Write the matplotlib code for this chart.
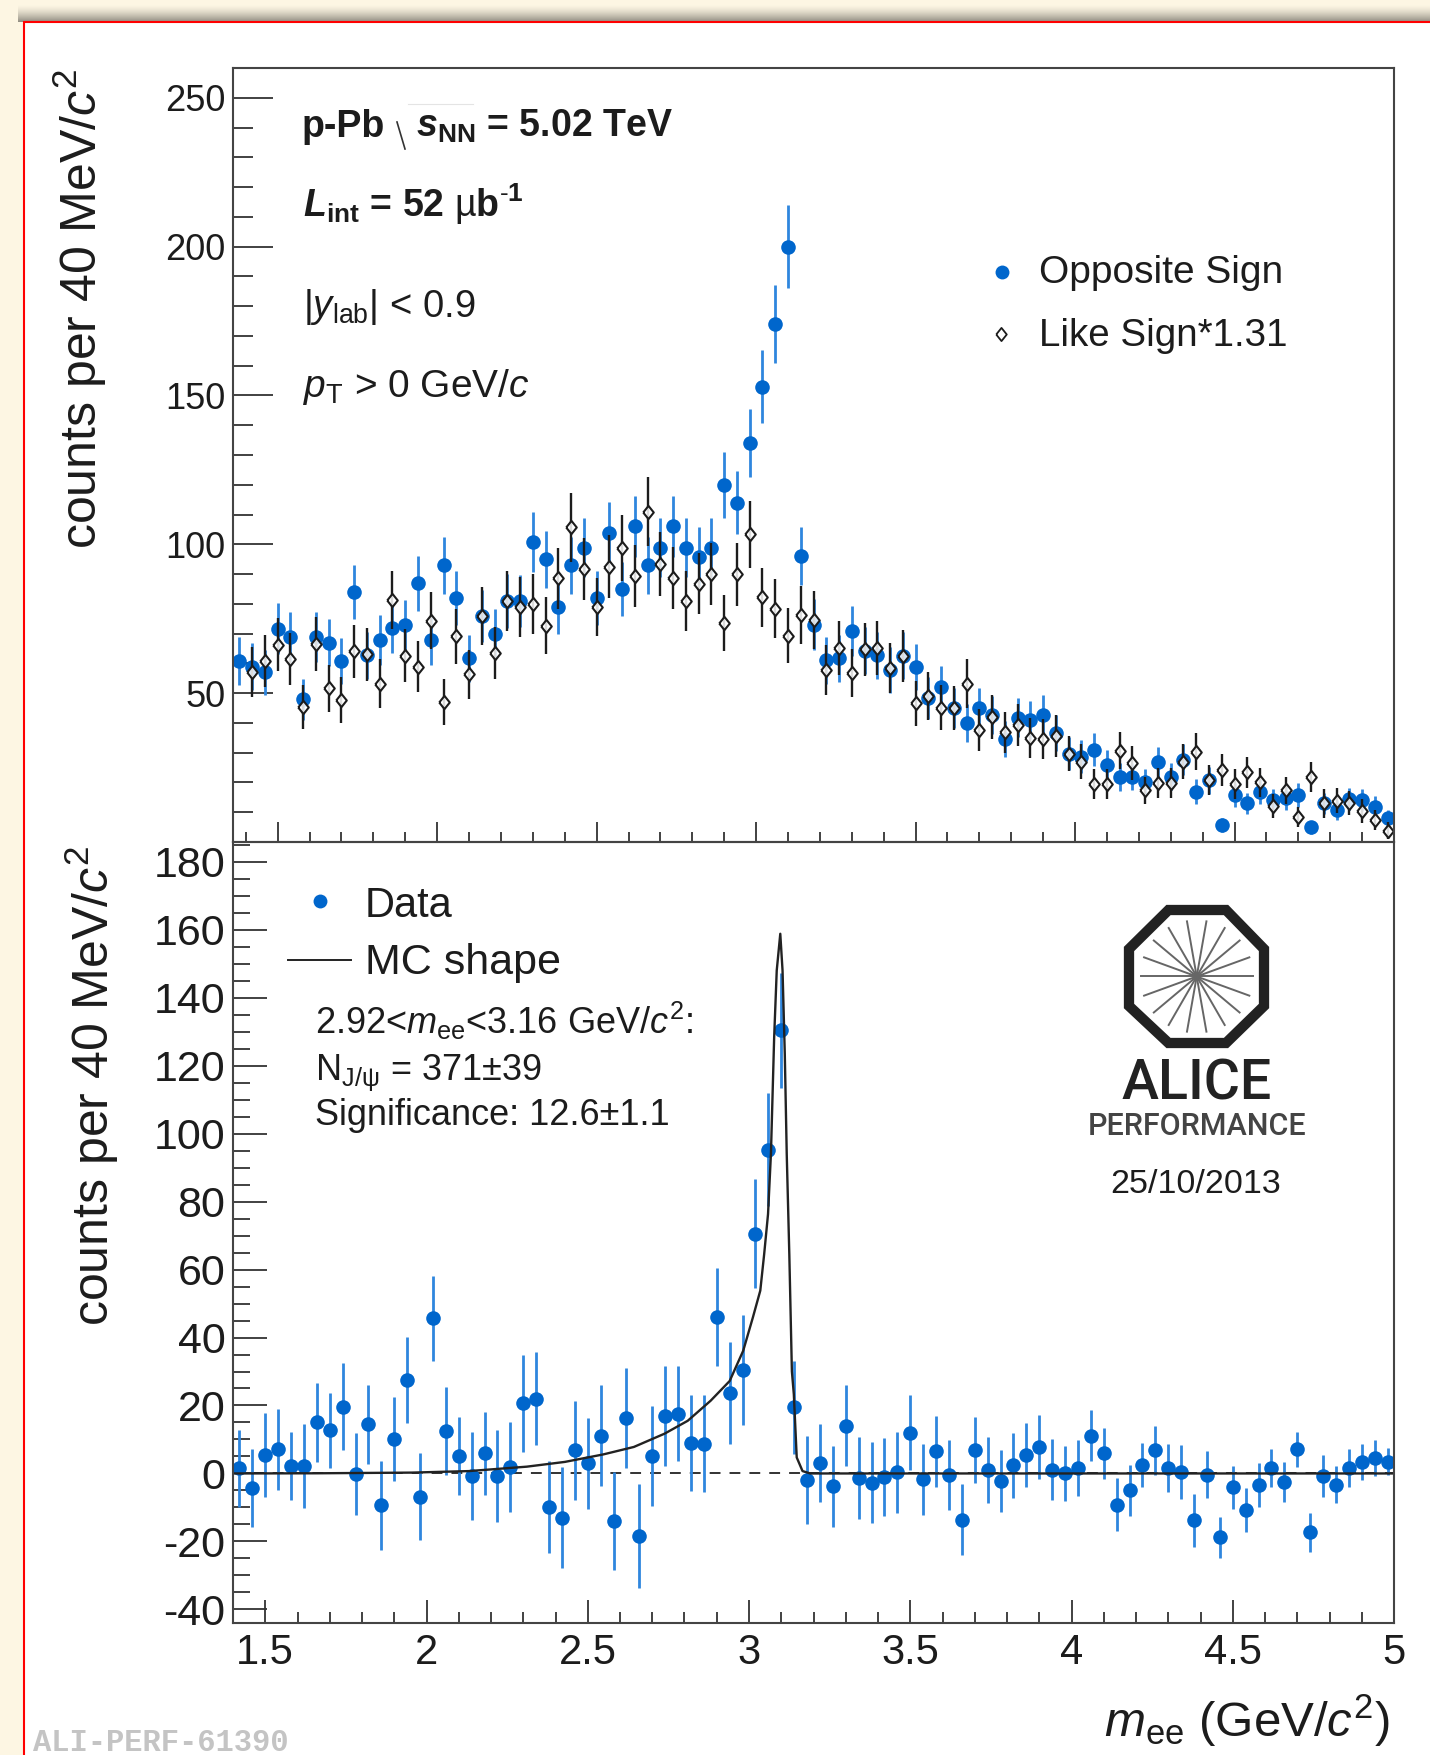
import matplotlib
matplotlib.use('Agg')
import numpy as np
import matplotlib.pyplot as plt
from matplotlib.lines import Line2D
from matplotlib.patches import Rectangle, Polygon
from matplotlib.ticker import MultipleLocator, NullFormatter
from matplotlib.transforms import Affine2D

plt.rcParams['font.family'] = ['Liberation Sans', 'DejaVu Sans']
plt.rcParams['mathtext.fontset'] = 'custom'
plt.rcParams['mathtext.rm'] = 'Liberation Sans'
plt.rcParams['mathtext.it'] = 'Liberation Sans:italic'
plt.rcParams['mathtext.bf'] = 'Liberation Sans:bold'
plt.rcParams['mathtext.bfit'] = 'Liberation Sans:italic:bold'
plt.rcParams['mathtext.default'] = 'regular'
plt.rcParams['axes.unicode_minus'] = False

# bin centres of the upper panel, the lower panel starts one bin later
mass_top = [1.38, 1.42, 1.46, 1.50, 1.54, 1.58, 1.62, 1.66, 1.70, 1.74, 1.78, 1.82, 1.86, 1.90, 1.94, 1.98,
            2.02, 2.06, 2.10, 2.14, 2.18, 2.22, 2.26, 2.30, 2.34, 2.38, 2.42, 2.46, 2.50, 2.54, 2.58, 2.62,
            2.66, 2.70, 2.74, 2.78, 2.82, 2.86, 2.90, 2.94, 2.98, 3.02, 3.06, 3.10, 3.14, 3.18, 3.22, 3.26,
            3.30, 3.34, 3.38, 3.42, 3.46, 3.50, 3.54, 3.58, 3.62, 3.66, 3.70, 3.74, 3.78, 3.82, 3.86, 3.90,
            3.94, 3.98, 4.02, 4.06, 4.10, 4.14, 4.18, 4.22, 4.26, 4.30, 4.34, 4.38, 4.42, 4.46, 4.50, 4.54,
            4.58, 4.62, 4.66, 4.70, 4.74, 4.78, 4.82, 4.86, 4.90, 4.94, 4.98]
mass_bottom = mass_top[1:]

# opposite sign counts
os_counts = [60.9, 58.9, 57, 71.7, 68.8, 47.9, 68.9, 67, 60.8, 83.9, 62.8, 67.9, 71.9, 72.9, 86.9, 67.8,
             92.9, 81.9, 61.7, 75.9, 70, 81, 81, 100.9, 94.9, 78.9, 92.9, 98.9, 81.9, 103.9, 85, 106,
             92.9, 98.9, 106, 98.9, 95.9, 98.9, 120, 114, 134, 153, 174, 200, 96, 73, 61, 61.7,
             70.8, 64.3, 62.8, 57.8, 62.6, 58.9, 48.3, 51.9, 44.9, 39.9, 45, 42.7, 34.6, 41.8, 41, 42.8,
             36.7, 29.7, 28.7, 31, 25.9, 21.7, 22, 20, 26.9, 22, 27.6, 16.9, 20.7, 5.7, 15.8, 13,
             16.9, 14.1, 14.7, 15.8, 4.9, 13, 10.8, 14.5, 14.1, 11.9, 8]
os_err = [8.0, 7.8, 7.6, 8.5, 8.3, 7.0, 8.3, 8.0, 7.8, 9.1, 7.9, 8.3, 8.5, 8.4, 9.3, 8.2,
          9.6, 9.0, 7.8, 8.7, 8.3, 9.0, 8.7, 10.1, 9.7, 8.9, 9.6, 9.8, 9.0, 10.2, 9.2, 10.2,
          9.6, 9.8, 10.2, 9.8, 9.8, 9.8, 11, 10.7, 11.5, 12.3, 13, 14, 9.8, 8.5, 7.8, 7.8,
          8.4, 8, 7.9, 7.6, 7.9, 7.7, 7, 7.2, 6.7, 6.3, 6.7, 6.5, 5.9, 6.5, 6.4, 6.5,
          6, 5.5, 5.4, 5.6, 5, 4.7, 4.7, 4.6, 5.1, 4.7, 5.2, 4.2, 4.5, 2.4, 4, 3.6,
          4.1, 3.8, 3.8, 4, 2.2, 3.6, 3.3, 3.8, 3.8, 3.4, 2.8]

# like sign counts scaled by 1.31, first bin not drawn in the original
ls_counts = [np.nan, 57.2, 60.8, 66.3, 61.4, 45.3, 66.5, 51.6, 47.8, 64, 63, 53.2, 81.3, 62.6, 58.9, 74.3,
             47, 69.1, 56.3, 76, 63.5, 81, 79, 80, 72.7, 88.6, 105.7, 91.7, 78.9, 92.5, 98.7, 89.4,
             111, 93.4, 88.7, 81, 86.8, 90, 73.5, 89.9, 103.4, 82.2, 78.4, 69.3, 76.3, 74.6, 57.8, 65.3,
             56.7, 64.7, 65.2, 58.5, 62.5, 46.6, 49, 45.1, 45, 53.2, 37.6, 41.9, 36.8, 39.3, 35, 34.7,
             35.7, 29.7, 27, 19.5, 19.6, 30.6, 26.5, 17.3, 19.7, 19.8, 27, 30.4, 20.7, 24.3, 19.5, 23.4,
             20, 12, 17.3, 8.4, 21.8, 13, 13.9, 13, 10.3, 7.3, 3.8]
ls_err = [np.nan, 8.4, 8.6, 9, 8.7, 7.4, 9.1, 8, 7.7, 8.9, 8.9, 8.2, 9.8, 8.8, 8.5, 9.6,
          7.8, 9.3, 8.2, 9.7, 8.8, 10, 10, 10, 9.5, 10.3, 11.5, 10.5, 9.8, 10.6, 11, 10.5,
          11.6, 10.7, 10.4, 10, 10.2, 10.5, 9.5, 10.5, 11.3, 10, 9.8, 9.2, 9.7, 9.8, 8.4, 9.1,
          8.1, 9, 9.1, 8.5, 8.7, 7.6, 8, 7.6, 7.5, 8.2, 7, 7.4, 6.9, 7, 6.7, 6.7,
          7, 6, 5.8, 5, 5, 6.2, 5.8, 4.7, 5, 5, 5.8, 6.2, 5, 5.4, 5, 5.3,
          5, 4.1, 4.6, 3.4, 5.1, 4.8, 4.3, 4, 4, 3.3, 2.8]

# background subtracted data
sub_counts = [1.5, -4.2, 5.4, 7.1, 2.1, 2.1, 15, 12.7, 19.7, -0.2, 14.5, -9.4, 10.2, 27.5, -6.8, 45.6,
              12.5, 5.2, -0.8, 5.9, -0.7, 1.9, 20.6, 22, -9.9, -13, 6.8, 3, 11.1, -13.9, 16.4, -18.4,
              5.2, 16.9, 17.6, 8.9, 8.8, 46, 23.7, 30.5, 70.6, 95.3, 130.4, 19.5, -2, 3.2, -3.8, 14.1,
              -1.4, -2.7, -1.1, 0.3, 12, -1.7, 6.5, -0.5, -13.6, 6.9, 1, -2.2, 2.4, 5.4, 7.7, 1.1,
              0, 1.6, 11.1, 5.9, -9.2, -4.9, 2.5, 6.8, 1.6, 0.4, -13.8, -0.4, -18.8, -4.1, -10.7, -3.4,
              1.6, -2.5, 7.1, -17.3, -0.8, -3.3, 1.6, 3.4, 4.5, 3.5]
sub_err = [11.4, 11.5, 12.4, 12, 10, 12.4, 11.5, 11, 12.8, 12, 11.6, 13, 12.3, 12.7, 12.7, 12.4,
           13, 11.5, 13, 12.1, 13.5, 13.3, 14.2, 13.6, 13.6, 14.9, 14.6, 13.4, 14.9, 14.4, 14.7, 15.2,
           14.7, 14.6, 14, 14.2, 14.4, 14.5, 15, 16.2, 15.9, 16.5, 17, 13.7, 12.9, 11.5, 12, 11.9,
           12.1, 12, 11.4, 11.9, 11, 10.5, 10.5, 10.2, 10.5, 9.7, 9.8, 9, 9.6, 9.4, 9.4, 9,
           8.2, 8.1, 7.5, 7.4, 7.8, 7.5, 6.4, 7.3, 7, 7.9, 7.7, 6.9, 6.1, 6.4, 6.5, 6.6,
           5.5, 6, 5.2, 5.8, 6.2, 5.4, 5.6, 5.2, 5.2, 4]

# MC line shape
mc_x = [1.40, 1.657, 1.954, 2.132, 2.311, 2.429, 2.548, 2.643, 2.738, 2.81, 2.881, 2.94, 2.982, 3.012, 3.035,
        3.047, 3.059, 3.068, 3.078, 3.086, 3.097, 3.104, 3.111, 3.117, 3.125, 3.133, 3.139, 3.148, 3.166, 3.19, 5.0]
mc_y = [0, 0.05, 0.25, 0.7, 2.0, 3.4, 5.6, 7.8, 11.7, 15.5, 21.4, 27.2, 36.1, 45.9, 53.8,
        64.5, 76.3, 94, 128.3, 148, 158.8, 148, 123.4, 94, 64.5, 30, 23.3, 4.7, 0.7, 0, 0]

x_ticks = [1.5, 2, 2.5, 3, 3.5, 4, 4.5, 5]
x_labels = ['1.5', '2', '2.5', '3', '3.5', '4', '4.5', '5']
spoke_angles = [0, 20, 40, 60, 80, 100, 120, 140, 160, 180, 200, 220, 240, 260, 280, 300, 320, 340]

W, H = 1430, 1755
BLUE = '#0066cc'
BLUE_BAR = '#2f86de'
DARK = '#1c1c1c'
DIAMOND = [(-0.4, 0), (0, 0.5), (0.4, 0), (0, -0.5), (-0.4, 0)]


def draw_ticks(ax, ymajor, yminor, ymaj_len, ymin_len, xmaj_len, xmin_len, size):
    ax.xaxis.set_major_locator(plt.FixedLocator(x_ticks))
    ax.xaxis.set_minor_locator(MultipleLocator(0.1))
    ax.yaxis.set_major_locator(MultipleLocator(ymajor))
    ax.yaxis.set_minor_locator(MultipleLocator(yminor))
    ax.tick_params(axis='y', which='major', direction='in', length=ymaj_len, width=1.3, color='#333333',
                   labelsize=size, pad=5.5, labelcolor=DARK)
    ax.tick_params(axis='y', which='minor', direction='in', length=ymin_len, width=1.3, color='#333333')
    ax.tick_params(axis='x', which='major', direction='in', length=xmaj_len, width=1.3, color='#333333')
    ax.tick_params(axis='x', which='minor', direction='in', length=xmin_len, width=1.3, color='#333333')
    for s in ax.spines.values():
        s.set_linewidth(1.5)
        s.set_color('#444444')


fig = plt.figure(figsize=(W / 100, H / 100), dpi=100, facecolor='#fdf6e3')
px = Affine2D().scale(1 / W, -1 / H).translate(0, 1) + fig.transFigure

# page frame with its shadow, kept under the axes
for k in range(18):
    shade = 1 - 0.42 * (k / 17) ** 1.5
    fig.add_artist(Rectangle((18, 4 + k), W, 1.2, transform=px, lw=0, zorder=-3,
                             fc=(0.992 * shade, 0.965 * shade, 0.89 * shade)))
fig.add_artist(Rectangle((24, 22), W, H, transform=px, fc='white', ec='#ff0000', lw=1.5, zorder=-2))


def label(x, y, s, size, **kw):
    kw.setdefault('color', DARK)
    return fig.text(x, y, s, transform=px, fontsize=size, ha=kw.pop('ha', 'left'),
                    va=kw.pop('va', 'baseline'), **kw)


# upper panel
ax1 = fig.add_axes([233 / W, 1 - 842 / H, (1394 - 233) / W, (842 - 68) / H])
ax1.patch.set_alpha(0)
ax1.errorbar(mass_top, os_counts, yerr=os_err, fmt='none', ecolor=BLUE_BAR, elinewidth=2)
ax1.plot(mass_top, os_counts, 'o', color=BLUE, ms=10.5, mew=0)
ax1.errorbar(mass_top, ls_counts, yerr=ls_err, fmt='none', ecolor=DARK, elinewidth=1.7)
ax1.plot(mass_top, ls_counts, linestyle='none', marker=DIAMOND, ms=9.5, mew=1.5, mec=DARK, mfc=(1, 1, 1, 0.85))
ax1.set_xlim(1.36, 5)
ax1.set_ylim(0, 260)
draw_ticks(ax1, 50, 10, 29, 14.5, 14.5, 7.5, 26)
ax1.set_yticks([50, 100, 150, 200, 250])
ax1.xaxis.set_major_formatter(NullFormatter())

# lower panel
ax2 = fig.add_axes([233 / W, 1 - 1623 / H, (1394 - 233) / W, (1623 - 842) / H])
ax2.patch.set_alpha(0)
ax2.axhline(0, color='#222222', lw=1.3, ls=(0, (6, 5)))
ax2.errorbar(mass_bottom, sub_counts, yerr=sub_err, fmt='none', ecolor=BLUE_BAR, elinewidth=2)
ax2.plot(mass_bottom, sub_counts, 'o', color=BLUE, ms=10.5, mew=0)
ax2.plot(mc_x, mc_y, color='#222222', lw=1.7)
ax2.set_xlim(1.4, 5)
ax2.set_ylim(-44, 185.8)
draw_ticks(ax2, 20, 5, 24.5, 12.5, 16.5, 8, 31)
ax2.set_yticks(list(range(-40, 181, 20)))
ax2.set_xticks(x_ticks)
ax2.set_xticklabels(x_labels, fontsize=30, color=DARK)
ax2.tick_params(axis='x', which='major', pad=7)

# axis titles
label(51, 68, 'counts per 40 MeV/$\\mathit{c}^{2}$', 36, rotation=90, va='top', ha='right', rotation_mode='anchor')
label(63, 845, 'counts per 40 MeV/$\\mathit{c}^{2}$', 36, rotation=90, va='top', ha='right', rotation_mode='anchor')
label(1390, 1737, '$\\mathit{m}_{ee}$ (GeV/$\\mathit{c}^{2}$)', 35.5, ha='right')

# upper panel annotations
label(302, 137, 'p-Pb', 27, fontweight='bold')
fig.add_artist(Line2D([397, 405], [122, 149], transform=px, color='#333333', lw=1.2))
fig.add_artist(Line2D([408, 473], [104, 104], transform=px, color='#e4e4e4', lw=0.8))
label(416, 137, '$\\mathbfit{s}_{\\mathbf{NN}}$ = 5.02 TeV', 27, fontweight='bold')
label(303, 217, '$\\mathbfit{L}_{\\mathbf{int}}$ = 52 $\\mathrm{µ}$b$^{\\text{-}\\mathbf{1}}$', 27, fontweight='bold')
label(303, 317, '|$\\mathit{y}_{lab}$| < 0.9', 27.5)
label(303, 397, '$\\mathit{p}_{T}$ > 0 GeV/$\\mathit{c}$', 28)
fig.add_artist(Line2D([1002], [272], transform=px, marker='o', ms=10, mew=0, color=BLUE))
fig.add_artist(Line2D([1001], [334], transform=px, marker=DIAMOND, ms=9.5, mew=1.3, mec=DARK, mfc='white'))
label(1039, 283, 'Opposite Sign', 28)
label(1039, 346, 'Like Sign*1.31', 27.7)

# lower panel annotations
fig.add_artist(Line2D([320], [901], transform=px, marker='o', ms=10, mew=0, color=BLUE))
fig.add_artist(Line2D([288, 351], [960, 960], transform=px, color='#222222', lw=1.4))
label(365, 917, 'Data', 30)
label(365, 974, 'MC shape', 31)
label(315, 1034, '2.92<$\\mathit{m}_{ee}$<3.16 GeV/$\\mathit{c}^{2}$:', 26)
label(315, 1080, 'N$_{J/\\mathrm{ψ}}$ = 371±39', 26)
label(315, 1125, 'Significance: 12.6±1.1', 26)

# ALICE logo
cx, cy = 1196.7, 976.5
fig.add_artist(Polygon([(1168.5, 910), (1226, 910), (1264, 949), (1264, 1006), (1226, 1043), (1168.5, 1043),
                        (1129, 1006), (1129, 949)], closed=True, transform=px, fc='white', ec='#222222',
                       lw=7.4, joinstyle='miter'))
for a in spoke_angles:
    t = np.deg2rad(a)
    fig.add_artist(Line2D([cx, cx + 56 * np.cos(t)], [cy, cy + 56 * np.sin(t)], transform=px,
                          color='#666666', lw=1.4))
label(1196.7, 1100, 'ALICE', 40, ha='center', fontfamily='Roboto', fontweight='medium', color='#222222')
label(1196.7, 1135, 'PERFORMANCE', 22, ha='center', fontfamily='Roboto', fontweight='medium', color='#444444')
label(1196, 1193, '25/10/2013', 24.5, ha='center')

label(33, 1751, 'ALI-PERF-61390', 22, fontfamily='Liberation Mono', fontweight='bold', color='#c4c4c4')

fig.savefig('out.png', dpi=100, facecolor=fig.get_facecolor())
